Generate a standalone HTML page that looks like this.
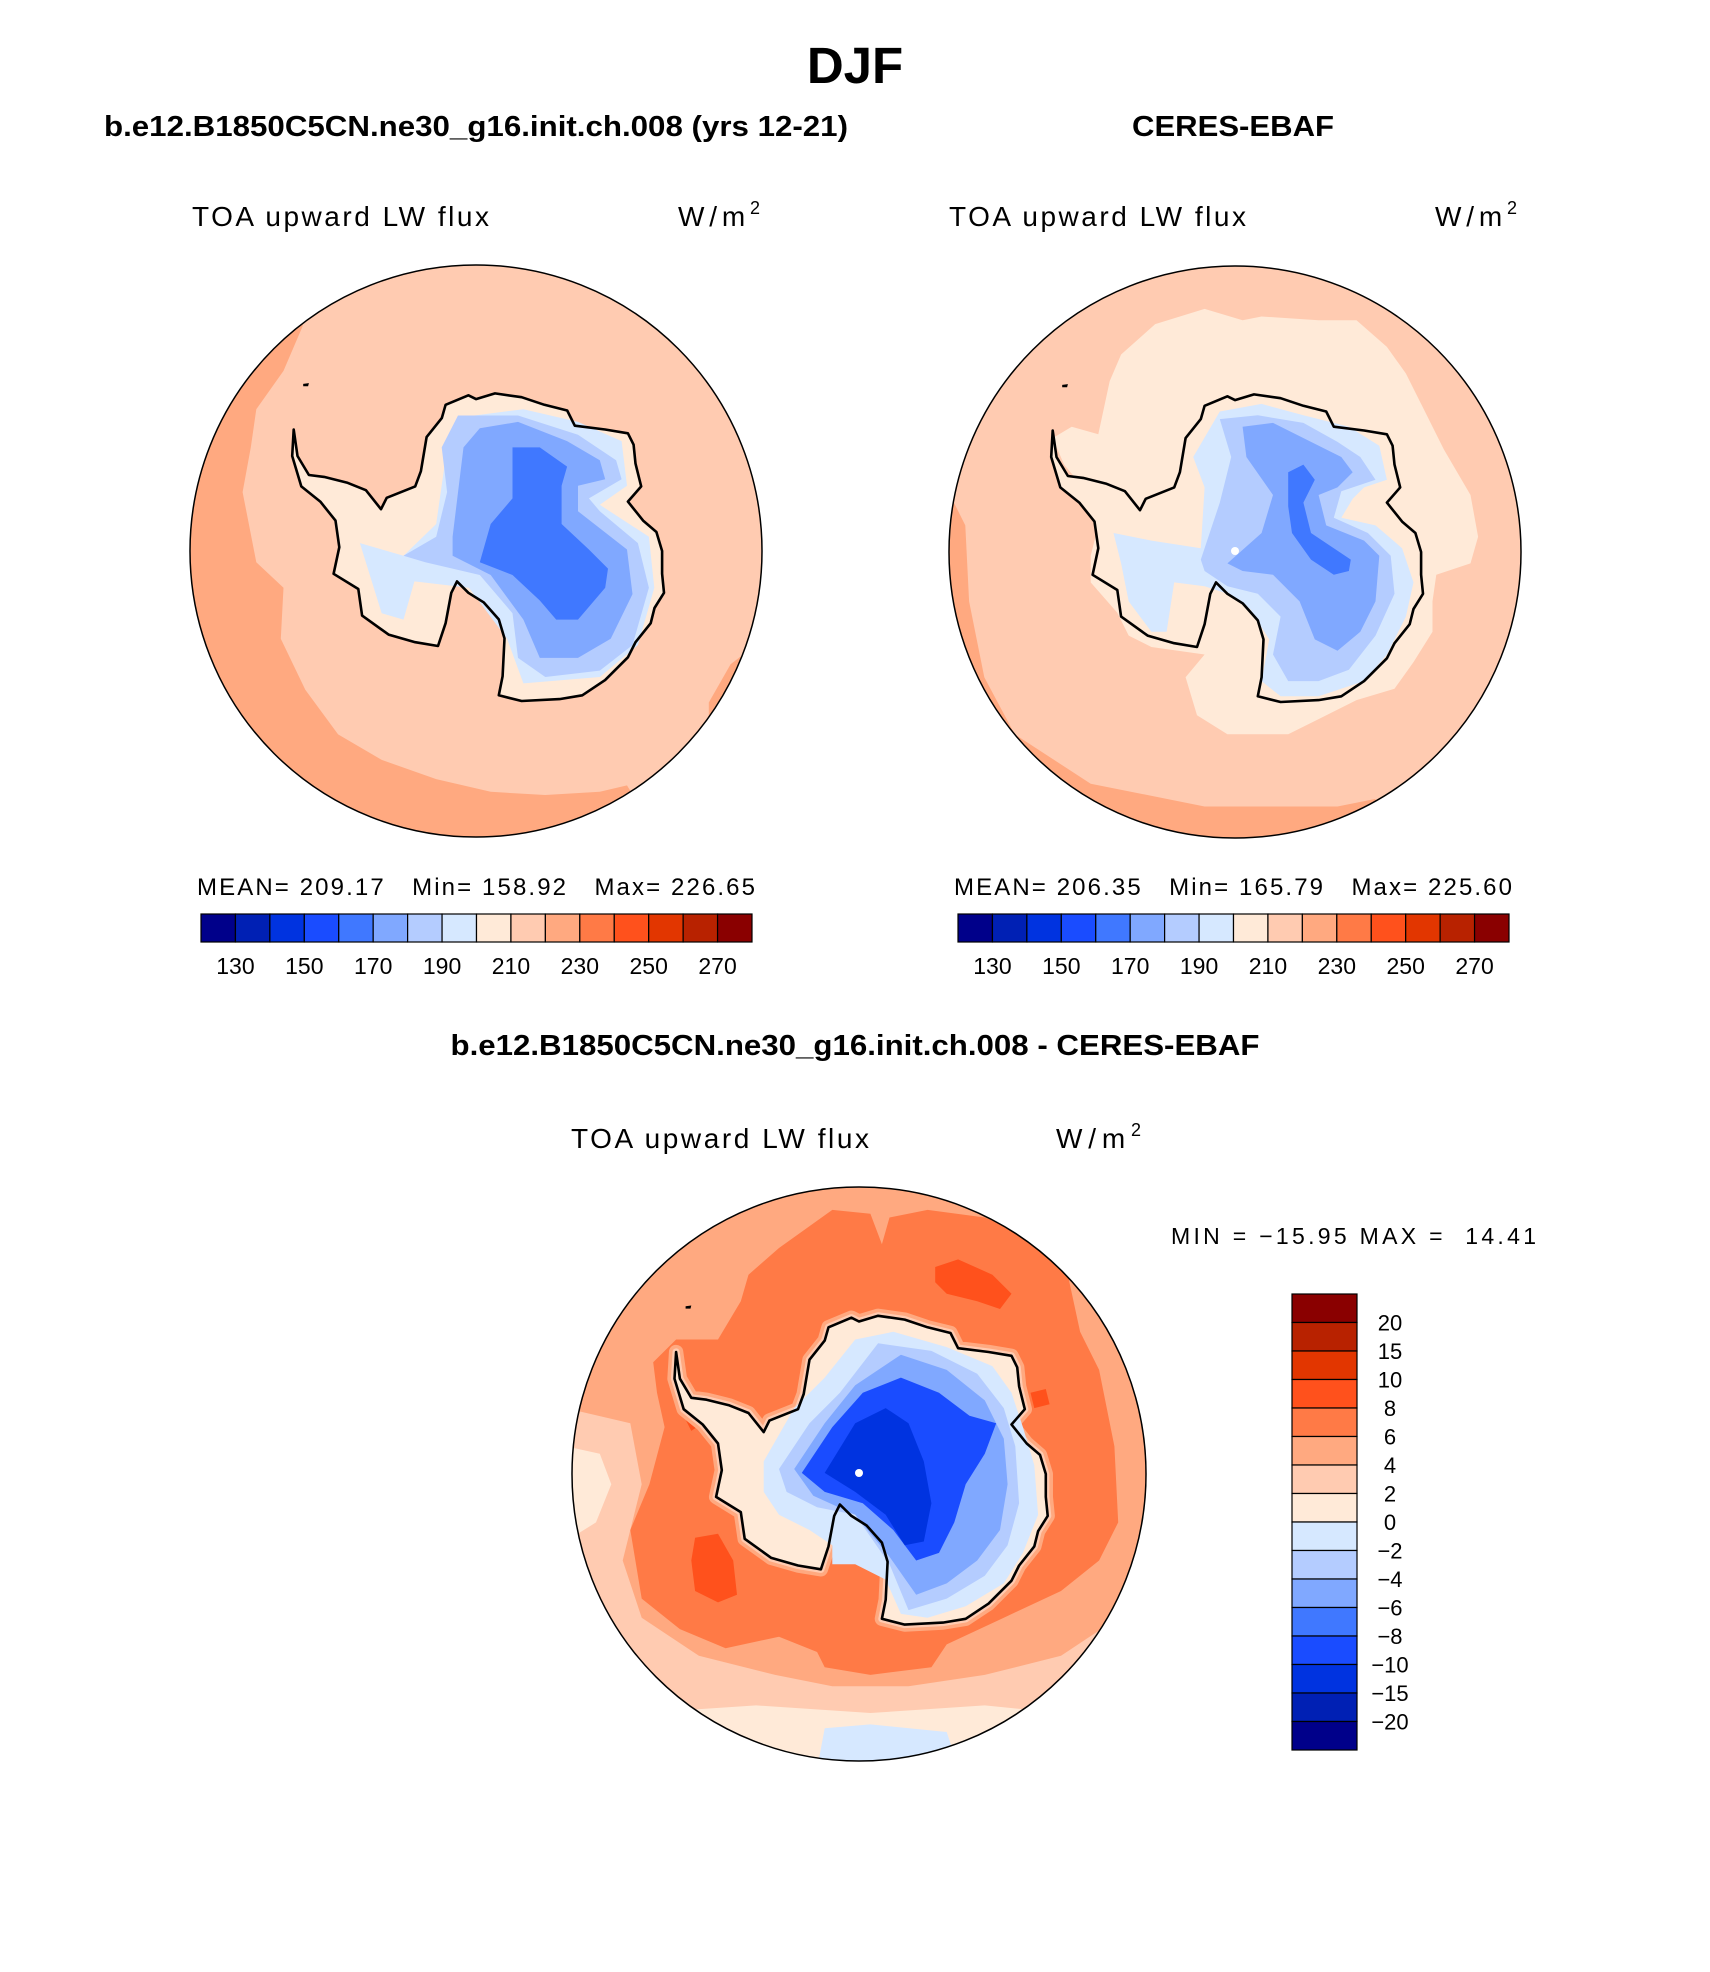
<!DOCTYPE html>
<html><head><meta charset="utf-8"><title>DJF TOA upward LW flux</title>
<style>
html,body{margin:0;padding:0;background:#fff;}
svg{display:block;}
text{font-family:"Liberation Sans",Arial,sans-serif;fill:#000;white-space:pre;}
</style></head>
<body>
<svg id="fig" width="1710" height="1972" viewBox="0 0 1710 1972" xmlns="http://www.w3.org/2000/svg" xml:space="preserve">
<text x="855" y="83" font-size="51" font-weight="bold" text-anchor="middle">DJF</text>
<text x="104" y="136" font-size="29" font-weight="bold" textLength="744" lengthAdjust="spacingAndGlyphs">b.e12.B1850C5CN.ne30_g16.init.ch.008 (yrs 12-21)</text>
<text x="1233" y="136" font-size="29" font-weight="bold" text-anchor="middle" textLength="202" lengthAdjust="spacingAndGlyphs">CERES-EBAF</text>
<text x="192" y="226" font-size="28" textLength="297" lengthAdjust="spacing">TOA upward LW flux</text>
<text x="678" y="226" font-size="28" textLength="82" lengthAdjust="spacing">W/m<tspan dy="-12" font-size="18">2</tspan></text>
<text x="949" y="226" font-size="28" textLength="297" lengthAdjust="spacing">TOA upward LW flux</text>
<text x="1435" y="226" font-size="28" textLength="82" lengthAdjust="spacing">W/m<tspan dy="-12" font-size="18">2</tspan></text>
<text x="855" y="1055" font-size="29" font-weight="bold" text-anchor="middle" textLength="809" lengthAdjust="spacingAndGlyphs">b.e12.B1850C5CN.ne30_g16.init.ch.008 - CERES-EBAF</text>
<text x="571" y="1148" font-size="28" textLength="298" lengthAdjust="spacing">TOA upward LW flux</text>
<text x="1056" y="1148" font-size="28" textLength="85" lengthAdjust="spacing">W/m<tspan dy="-12" font-size="18">2</tspan></text>
<text x="1171" y="1244" font-size="23" textLength="365" lengthAdjust="spacing">MIN = −15.95 MAX =  14.41</text>
<g id="maps"></g>
<g id="bars"></g>
</svg>
<script>
// ---- colour bar data ----
const absColors = ["#00008a","#0020b4","#0033e0","#1a4cff","#4078ff","#80a8ff","#b4ccff","#d6e8ff","#ffead8","#ffcbb1","#ffa980","#ff7a46","#ff511c","#e23600","#b82200","#8a0000"];
const absTickLabels = ["130","150","170","190","210","230","250","270"];
const diffTickLabels = ["20","15","10","8","6","4","2","0","−2","−4","−6","−8","−10","−15","−20"];
const modelStats = ["MEAN=","209.17","Min=","158.92","Max=","226.65"];
const obsStats = ["MEAN=","206.35","Min=","165.79","Max=","225.60"];

const NS="http://www.w3.org/2000/svg";
function mk(tag,attrs,parent){const e=document.createElementNS(NS,tag);for(const k in attrs)e.setAttribute(k,attrs[k]);parent.appendChild(e);return e;}

const T3=(p)=>[(p[0]-780)/753,(p[1]-770)/753];
const T4=(p)=>[(p[0]-770)/753,(p[1]-773)/753];
const T1=(p)=>[(p[0]/1.834-476)/286,(p[1]/1.568-550)/286];

const coast=[[300,450],[296,520],[320,600],[370,640],[410,690],[420,760],[405,830],[470,870],[480,940],[550,990],[620,1010],[680,1020],[700,960],[715,880],[730,850],[760,880],[800,905],[840,950],[855,1000],[850,1100],[840,1150],[900,1165],[1000,1160],[1060,1150],[1120,1110],[1180,1050],[1200,1010],[1240,960],[1250,920],[1275,880],[1270,830],[1270,770],[1255,720],[1220,690],[1180,640],[1215,600],[1200,540],[1195,490],[1180,460],[1120,450],[1040,440],[1020,400],[960,385],[900,365],[830,355],[780,370],[760,360],[700,385],[690,420],[650,470],[635,560],[620,600],[545,630],[530,660],[490,610],[440,590],[380,575],[340,570],[310,520]];

function poly(g,pts,T,m,fill,extra){
  const d=pts.map((p,i)=>{const q=T(p);return (i?"L":"M")+(m.cx+q[0]*m.r).toFixed(1)+","+(m.cy+q[1]*m.r).toFixed(1);}).join("")+"Z";
  const e=mk("path",Object.assign({d:d,fill:fill},extra||{}),g);return e;
}

const maps=[
 {id:"model",cx:476,cy:551,r:286},
 {id:"obs",cx:1235,cy:552,r:286},
 {id:"diff",cx:859,cy:1474,r:287}
];
const mg=document.getElementById("maps");
const defs=mk("defs",{},mg);
maps.forEach(m=>{
  const cp=mk("clipPath",{id:"clip-"+m.id},defs);
  mk("circle",{cx:m.cx,cy:m.cy,r:m.r},cp);
});

function drawMap(m,layers,coastFill,halo){
  const g=mk("g",{"clip-path":"url(#clip-"+m.id+")"},mg);
  
  
  mk("rect",{x:m.cx-m.r,y:m.cy-m.r,width:2*m.r,height:2*m.r,fill:layers.base},g);
  layers.pre.forEach(L=>poly(g,L.p,L.T,m,L.c));
  if(halo){halo.forEach(h=>poly(g,coast,T3,m,"none",{stroke:h.c,"stroke-width":h.w*m.r,"stroke-linejoin":"round"}));}
  poly(g,coast,T3,m,coastFill);
  layers.post.forEach(L=>poly(g,L.p,L.T,m,L.c));
  const c=poly(g,coast,T3,m,"none",{stroke:"#000","stroke-width":2.6,"stroke-linejoin":"round"});
  
  
  poly(g,[[325,330],[340,328],[338,336],[325,336]],T3,m,"#000");
  const b=mk("circle",{cx:m.cx,cy:m.cy,r:m.r,fill:"none",stroke:"#000","stroke-width":1.5},mg);
  
  
}

drawMap(maps[0],{base:absColors[9],
 pre:[{T:T1,c:absColors[10],p:[[555,510],[520,580],[470,640],[460,700],[445,770],[470,880],[520,920],[515,1000],[560,1080],[620,1150],[700,1190],[800,1220],[900,1240],[1000,1245],[1100,1240],[1150,1230],[1200,1300],[1200,1400],[300,1400],[300,400],[560,400]]},
      {T:T1,c:absColors[10],p:[[1300,1100],[1340,1040],[1400,1000],[1400,1150],[1300,1160]]}],
 post:[
  {T:T1,c:absColors[7],p:[[660,850],[740,870],[800,820],[820,700],[870,650],[960,640],[1060,660],[1140,690],[1150,760],[1100,790],[1190,840],[1200,920],[1170,1010],[1100,1060],[960,1070],[930,1000],[860,920],[760,910],[740,970],[700,960]]},
  {T:T1,c:absColors[6],p:[[740,870],[800,840],[820,770],[810,700],[840,650],[950,650],[1060,680],[1130,720],[1140,750],[1080,780],[1100,800],[1170,850],[1190,920],[1160,1010],[1100,1050],[1000,1060],[950,1030],[940,960],[880,900],[780,880]]},
  {T:T1,c:absColors[5],p:[[830,840],[850,700],[880,670],[950,660],[1040,690],[1100,720],[1110,750],[1060,760],[1060,800],[1150,860],[1160,930],[1120,1000],[1060,1030],[990,1030],[960,970],[900,900],[830,870]]},
  {T:T1,c:absColors[4],p:[[880,880],[900,820],[940,780],[940,700],[990,700],[1040,730],[1030,760],[1030,820],[1080,860],[1115,890],[1110,920],[1080,950],[1060,970],[1020,970],[990,940],[940,900]]}
 ]},absColors[8]);

drawMap(maps[1],{base:absColors[9],
 pre:[{T:T3,c:absColors[10],p:[[40,640],[70,700],[80,900],[120,1100],[200,1250],[400,1380],[700,1440],[900,1440],[1050,1440],[1150,1420],[1150,1600],[0,1600],[0,640]]},
      {T:T3,c:absColors[8],p:[[450,320],[480,250],[570,170],[700,130],[800,160],[850,150],[1000,160],[1100,160],[1180,230],[1230,300],[1270,380],[1330,500],[1400,620],[1420,730],[1400,800],[1310,830],[1300,900],[1300,980],[1250,1060],[1200,1130],[1100,1160],[1000,1210],[920,1250],[760,1250],[680,1200],[650,1100],[700,1040],[560,1020],[500,990],[470,930],[400,850],[400,780],[420,700],[440,650],[380,600],[330,540],[300,470],[350,440],[420,460]]}],
 post:[
  {T:T3,c:absColors[7],p:[[460,720],[560,740],[690,760],[700,600],[670,520],[740,400],[850,380],[960,410],[1080,440],[1160,490],[1180,580],[1120,600],[1090,630],[1060,680],[1150,700],[1220,760],[1250,850],[1230,940],[1180,1040],[1120,1110],[1000,1150],[900,1150],[850,1110],[870,1000],[820,920],[760,880],[700,860],[620,850],[600,980],[560,980],[500,900],[480,800]]},
  {T:T3,c:absColors[6],p:[[690,790],[740,640],[770,520],[740,420],[840,410],[960,430],[1050,480],[1110,520],[1150,580],[1060,610],[1040,680],[1130,720],[1190,780],[1200,880],[1150,990],[1080,1080],[1000,1110],[920,1110],[880,1040],[900,940],[840,880],[760,860],[700,820]]},
  {T:T3,c:absColors[5],p:[[760,800],[850,720],[880,620],[810,520],[800,440],[880,430],[980,480],[1060,520],[1090,560],[1050,600],[1000,620],[1020,700],[1120,740],[1160,780],[1150,900],[1110,980],[1050,1030],[990,1000],[950,900],[880,830],[800,820]]},
  {T:T3,c:absColors[4],p:[[920,560],[960,540],[990,580],[960,640],[980,720],[1040,760],[1085,790],[1080,820],[1040,830],[980,790],[930,720],[920,650]]}
 ]},absColors[8]);

drawMap(maps[2],{base:absColors[10],
 pre:[
  {T:T4,c:absColors[9],p:[[0,600],[170,640],[200,800],[150,1000],[200,1150],[350,1250],[550,1300],[700,1330],[900,1330],[1100,1300],[1300,1250],[1450,1150],[1550,1200],[1550,1600],[0,1600]]},
  {T:T4,c:absColors[8],p:[[0,700],[90,720],[120,800],[80,900],[0,950]]},
  {T:T4,c:absColors[8],p:[[200,1400],[500,1380],[800,1400],[1100,1380],[1300,1400],[1300,1600],[200,1600]]},
  {T:T4,c:absColors[7],p:[[680,1440],[800,1430],[1000,1450],[1050,1600],[650,1600]]},
  {T:T4,c:absColors[11],p:[[460,320],[480,250],[560,180],[700,80],[800,90],[830,170],[850,100],[950,80],[1100,100],[1250,160],[1320,260],[1350,400],[1400,500],[1440,700],[1450,900],[1400,1000],[1300,1080],[1150,1150],[1000,1220],[960,1280],[800,1300],[680,1280],[660,1240],[560,1200],[420,1230],[300,1180],[200,1100],[170,920],[220,800],[260,650],[240,560],[230,480],[290,420],[400,420]]},
  {T:T4,c:absColors[12],p:[[340,940],[400,930],[440,1000],[450,1090],[400,1110],[340,1080],[330,1000]]},
  {T:T4,c:absColors[12],p:[[970,230],[1030,210],[1120,250],[1170,300],[1140,340],[1080,320],[1000,300],[970,270]]},
  {T:T4,c:absColors[12],p:[[1220,560],[1260,550],[1270,590],[1230,600]]},
  {T:T4,c:absColors[12],p:[[290,520],[340,560],[360,640],[330,660],[300,600]]}
 ],
 post:[
  {T:T4,c:absColors[7],p:[[520,740],[600,600],[680,520],[760,420],[860,400],[1000,440],[1120,490],[1170,560],[1200,650],[1230,750],[1240,880],[1200,980],[1150,1060],[1050,1120],[950,1150],[880,1140],[840,1050],[760,1010],[700,1010],[700,960],[640,920],[560,880],[520,820]]},
  {T:T4,c:absColors[6],p:[[560,760],[640,640],[720,560],[820,430],[960,450],[1080,510],[1150,600],[1180,700],[1190,850],[1160,960],[1100,1040],[1000,1100],[900,1130],[850,1010],[760,880],[660,860],[580,820]]},
  {T:T4,c:absColors[5],p:[[600,760],[680,640],[760,540],[880,460],[1000,500],[1100,580],[1150,680],[1160,800],[1140,920],[1080,1000],[1000,1060],[920,1090],[850,990],[760,880],[650,830]]},
  {T:T4,c:absColors[3],p:[[620,770],[700,650],[780,560],[880,520],[980,560],[1060,620],[1130,640],[1100,720],[1050,800],[1020,900],[980,980],[920,1000],[860,920],[780,850],[680,820]]},
  {T:T4,c:absColors[2],p:[[680,770],[760,640],[840,600],[900,640],[940,740],[960,850],[940,950],[890,960],[840,880],[760,820]]}
 ]},absColors[8],[{c:absColors[10],w:0.05},{c:absColors[9],w:0.025}]);

[maps[1],maps[2]].forEach(m=>{mk("circle",{cx:m.cx,cy:m.cy-1,r:4,fill:"#fff"},mg);});

const bg=document.getElementById("bars");
function hbar(x0,y0,w,h,stats,id){
  const g=mk("g",{},bg);
  
  
  const bw=w/absColors.length;
  absColors.forEach((c,i)=>{mk("rect",{x:x0+i*bw,y:y0,width:bw,height:h,fill:c,stroke:"#000","stroke-width":1.2},g);});
  absTickLabels.forEach((t,i)=>{
    const e=mk("text",{x:x0+(2*i+1)*bw,y:y0+60,"font-size":23,"text-anchor":"middle"},g);e.textContent=t;
    
    
  });
  const s=mk("text",{x:x0-4,y:y0-19,"font-size":24,textLength:558,lengthAdjust:"spacing"},bg);
  s.textContent=stats[0]+" "+stats[1]+"   "+stats[2]+" "+stats[3]+"   "+stats[4]+" "+stats[5];
  
  
}
hbar(201,914,551,28,modelStats,"model");
hbar(958,914,551,28,obsStats,"obs");

(function(){
  const g=mk("g",{},bg);
  
  
  const x0=1292,y0=1294,w=65,h=456,n=absColors.length,bh=h/n;
  absColors.slice().reverse().forEach((c,i)=>{mk("rect",{x:x0,y:y0+i*bh,width:w,height:bh,fill:c,stroke:"#000","stroke-width":1.2},g);});
  diffTickLabels.forEach((t,i)=>{
    const e=mk("text",{x:1390,y:y0+(i+1)*bh+8,"font-size":22,"text-anchor":"middle"},g);e.textContent=t;
    
    
  });
})();
</script>
</body></html>
